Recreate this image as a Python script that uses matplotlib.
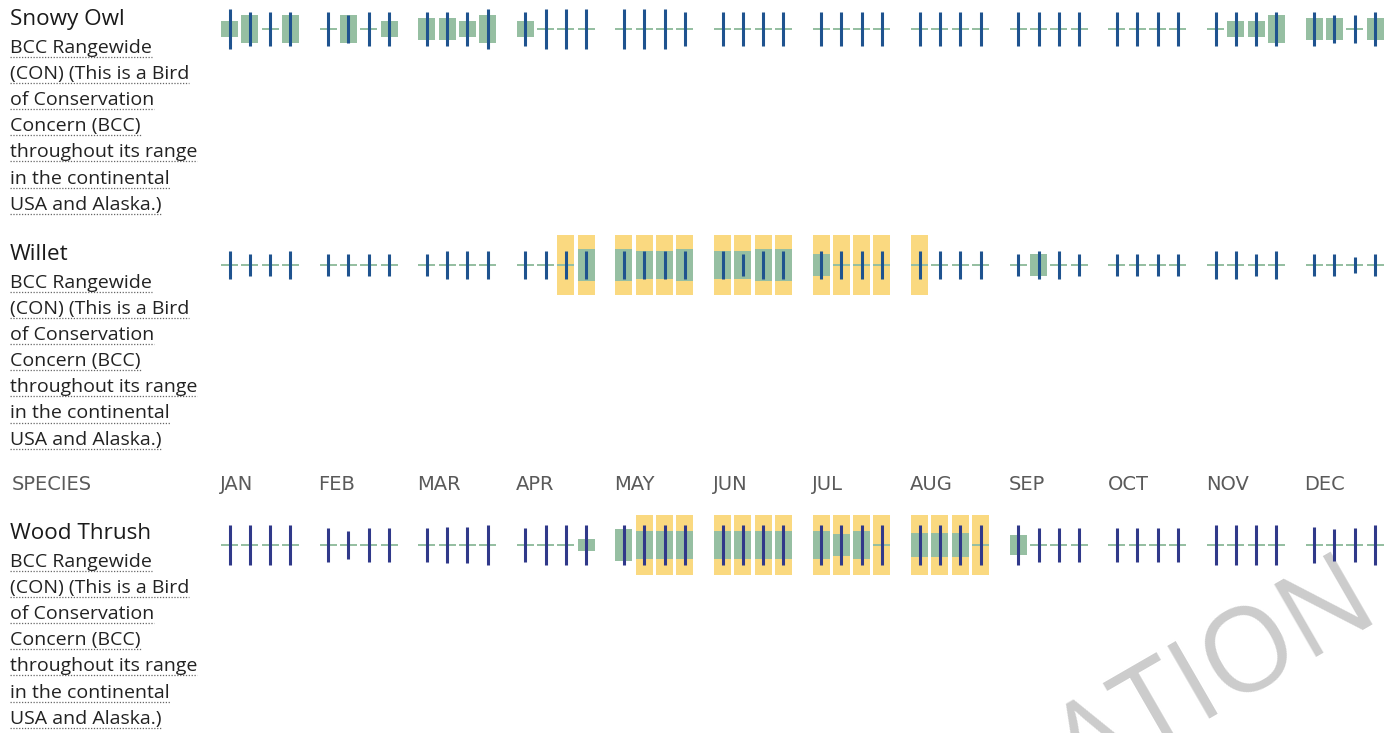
import numpy as np
import matplotlib.pyplot as plt

months = ["JAN", "FEB", "MAR", "APR", "MAY", "JUN", "JUL", "AUG", "SEP", "OCT", "NOV", "DEC"]

species = ["Snowy Owl", "Willet", "Wood Thrush"]
status_lines = ["BCC Rangewide", "(CON) (This is a Bird", "of Conservation",
                "Concern (BCC)", "throughout its range", "in the continental",
                "USA and Alaska.)"]

# probability of presence per week (0-1, relative)
snowy_prob = [.53, .88, 0, .88,  0, .88, 0, .53,  .66, .66, .53, .88,  .53, 0, 0, 0,
              0, 0, 0, 0,  0, 0, 0, 0,  0, 0, 0, 0,  0, 0, 0, 0,
              0, 0, 0, 0,  0, 0, 0, 0,  0, .53, .53, .88,  .66, .66, 0, .66]
willet_prob = [0, 0, 0, 0,  0, 0, 0, 0,  0, 0, 0, 0,  0, 0, 0, 1.0,
               1.0, .88, .88, 1.0,  .88, .88, 1.0, 1.0,  .66, 0, 0, 0,  0, 0, 0, 0,
               0, .66, 0, 0,  0, 0, 0, 0,  0, 0, 0, 0,  0, 0, 0, 0]
thrush_prob = [0, 0, 0, 0,  0, 0, 0, 0,  0, 0, 0, 0,  0, 0, 0, .4,
               1.0, .9, .9, .9,  .9, .9, .9, .9,  .85, .7, .85, 0,  .75, .75, .75, 0,
               .6, 0, 0, 0,  0, 0, 0, 0,  0, 0, 0, 0,  0, 0, 0, 0]

# survey effort per week (0-1, relative)
snowy_effort = [1, .85, .85, .85,  .85, .7, .85, .85,  .85, .85, .85, 1,  .85, 1, 1, 1,
                1, 1, 1, .85] + [.85] * 24 + [.85, .7, .7, .85]
willet_effort = [1, .82, .82, 1,  .82, .82, .82, .82,  .82, 1, 1, 1,  1, 1, 1, 1,
                 1, 1, 1, 1,  1, .82, 1, 1,  1, 1, 1, 1,  1, 1, 1, 1,
                 .82, 1, 1, .82,  .82, .82, .82, .82,  1, 1, .82, 1,  .82, .82, .6, .82]
thrush_effort = [1, 1, 1, 1,  .85, .72, .85, .85,  .85, .9, .9, 1,  .85, 1, 1, 1,
                 1, 1, 1, 1,  1, 1, 1, 1,  1, 1, 1, 1,  1, 1, 1, 1,
                 1, .85, .85, .85,  .85, .85, .85, .85,  1, 1, 1, 1,  .9, .8, .85, 1]

# breeding season weeks
willet_breeding = list(range(14, 29))
thrush_breeding = list(range(17, 32))

GREEN = "#96bfa2"
YELLOW = "#fad980"
BLUE = "#1f538f"

fig = plt.figure(figsize=(13.93, 7.33), dpi=100)
ax = fig.add_axes([0, 0, 1, 1])
ax.set_xlim(0, 1393)
ax.set_ylim(733, 0)
ax.axis("off")

weeks = np.arange(48)
xs = 221 + (weeks // 4) * 98.6 + (weeks % 4) * 20.3
bw = 17

rows = [
    # title baseline, bar centre, prob, effort, breeding, effort px, line colour
    (25, 29, snowy_prob, snowy_effort, [], 40, BLUE),
    (260, 265, willet_prob, willet_effort, willet_breeding, 28, BLUE),
    (539, 545, thrush_prob, thrush_effort, thrush_breeding, 40, "#30398a"),
]

texts = []
for name, (base, cy, prob, effort, breed, eff_px, lc) in zip(species, rows):
    if breed:
        bx = xs[breed]
        ax.bar(bx, 60, width=bw, bottom=cy - 30, align="edge", color=YELLOW, lw=0)
    p = np.array(prob)
    h = np.where(p > 0, p * 32, 2.2)
    ax.bar(xs, h, width=bw, bottom=cy - h / 2, align="edge", color=GREEN, lw=0)
    e = np.array(effort) * eff_px
    ax.vlines(xs + bw / 2, cy - e / 2, cy + e / 2, color=lc, lw=2.2)

    ax.text(10, base, name, fontsize=16.2, family="Open Sans", color="#1a1a1a", va="baseline")
    for i, line in enumerate(status_lines):
        t = ax.text(10, base + 28 + i * 26.1, line, fontsize=14, family="Open Sans",
                    color="#222222", va="baseline")
        texts.append(t)

# header row
hdr = ["Liberation Sans Narrow", "DejaVu Sans"]
ax.text(12, 490, "SPECIES", fontsize=14, family=hdr, color="#5a5a5a", va="baseline")
for m, lab in enumerate(months):
    ax.text(xs[m * 4] - 1, 490, lab, fontsize=14, family=hdr, color="#5a5a5a", va="baseline")

# watermark
ax.text(1232, 706, "ATION", fontsize=84, family="Open Sans", color="#cccccc",
        rotation=30, rotation_mode="anchor", ha="center", va="baseline", zorder=0)

# dotted underlines below the status text
fig.canvas.draw()
r = fig.canvas.get_renderer()
inv = ax.transData.inverted()
for t in texts:
    bb = t.get_window_extent(r)
    (x0, _), (x1, _) = inv.transform([[bb.x0, bb.y0], [bb.x1, bb.y1]])
    y = t.get_position()[1] + 4
    ax.plot([x0, x1], [y, y], color="#666666", lw=0.9, linestyle=(0, (1, 1.3)))

fig.savefig("out.png", dpi=100)
